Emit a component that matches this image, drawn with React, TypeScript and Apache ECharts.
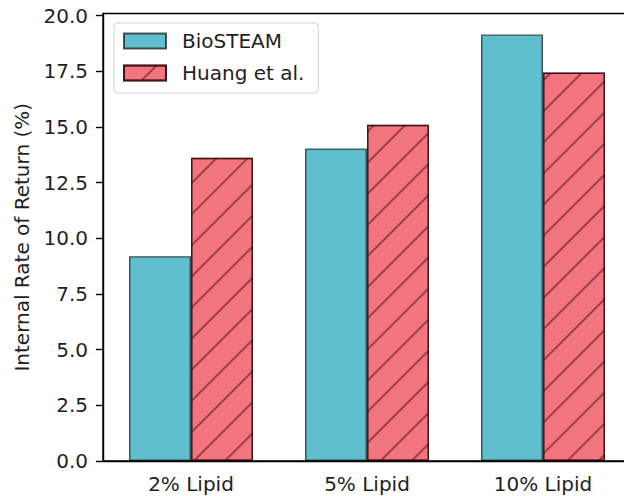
import React, { useEffect, useRef } from "react";
import * as echarts from "echarts";

const categories = ["2% Lipid", "5% Lipid", "10% Lipid"];
const bioSteam = [9.2, 14.04, 19.16];
const huang = [13.62, 15.1, 17.45];
const yTicks = [0, 2.5, 5, 7.5, 10, 12.5, 15, 17.5, 20];

const FONT = "DejaVu Sans";
const TEXT = "#1f1f1f";
const FS = 20;

export default function App() {
  const ref = useRef<HTMLDivElement>(null);
  useEffect(() => {
    if (!ref.current) return;
    const chart = echarts.init(ref.current, null, { renderer: "svg" });
    const hatch = {
      symbol: "rect",
      symbolSize: 1,
      dashArrayX: [1, 0],
      dashArrayY: [1.2, 19.3],
      rotation: -Math.PI / 4,
      color: "rgba(85,20,28,0.55)",
    };
    chart.setOption({
      animation: false,
      backgroundColor: "#ffffff",
      textStyle: { fontFamily: FONT },
      grid: {
        left: 103,
        top: 13.5,
        bottom: 35,
        width: 528,
        show: true,
        borderColor: "#000",
        borderWidth: 1.4,
        backgroundColor: "transparent",
      },
      legend: {
        orient: "vertical",
        left: 114,
        top: 23,
        padding: [8, 14, 10, 9],
        itemWidth: 42,
        itemHeight: 15,
        itemGap: 12,
        borderColor: "#d0d0d0",
        borderWidth: 1,
        borderRadius: 4,
        backgroundColor: "rgba(255,255,255,0.85)",
        icon: "rect",
        textStyle: { fontFamily: FONT, fontSize: FS, color: TEXT, padding: [0, 0, 0, 11] },
        data: ["BioSTEAM", "Huang et al."],
      },
      xAxis: {
        type: "category",
        data: categories,
        axisLine: { lineStyle: { color: "#000", width: 1.4 } },
        axisTick: { alignWithLabel: true, length: 7, lineStyle: { color: "#000", width: 1.4 } },
        axisLabel: { fontFamily: FONT, fontSize: FS, color: TEXT, margin: 13 },
        splitLine: { show: false },
      },
      yAxis: {
        type: "value",
        min: 0,
        max: 20.1,
        name: "Internal Rate of Return (%)",
        nameLocation: "middle",
        nameGap: 71,
        nameTextStyle: { fontFamily: FONT, fontSize: FS, color: TEXT },
        axisLine: { show: true, lineStyle: { color: "#000", width: 1.4 } },
        axisTick: { show: true, length: 7, customValues: yTicks, lineStyle: { color: "#000", width: 1.4 } },
        axisLabel: {
          fontFamily: FONT,
          fontSize: FS,
          color: TEXT,
          margin: 15,
          customValues: yTicks,
          formatter: (v: number) => v.toFixed(1),
        },
        splitLine: { show: false },
      },
      series: [
        {
          name: "BioSTEAM",
          type: "bar",
          data: bioSteam,
          barWidth: 62,
          barGap: "0%",
          itemStyle: { color: "#60BFCD", borderColor: "rgba(0,0,0,0.65)", borderWidth: 1.4 },
        },
        {
          name: "Huang et al.",
          type: "bar",
          data: huang,
          barWidth: 62,
          barGap: "0%",
          itemStyle: {
            color: "#F1747E",
            borderColor: "rgba(40,0,0,0.65)",
            borderWidth: 1.4,
            decal: hatch,
          },
        },
      ],
    });
    return () => chart.dispose();
  }, []);
  return (
    <div
      ref={ref}
      style={{ position: "fixed", left: 0, top: 0, width: 640, height: 496, background: "#fff" }}
    />
  );
}
